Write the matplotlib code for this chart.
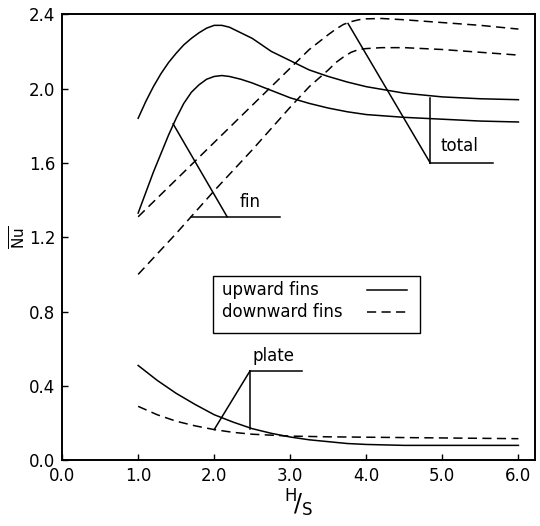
import numpy as np
import matplotlib
matplotlib.use("Agg")
import matplotlib.pyplot as plt
from matplotlib.patches import Rectangle

# upward fins (solid)
up_total_x = [1.0, 1.1, 1.2, 1.3, 1.4, 1.5, 1.6, 1.7, 1.8, 1.9, 2.0, 2.1, 2.2,
              2.35, 2.5, 2.75, 3.0, 3.25, 3.5, 3.75, 4.0, 4.5, 5.0, 5.5, 6.0]
up_total = [1.84, 1.93, 2.01, 2.08, 2.14, 2.19, 2.235, 2.27, 2.30, 2.325, 2.34,
            2.34, 2.33, 2.30, 2.27, 2.20, 2.15, 2.10, 2.065, 2.035, 2.01,
            1.975, 1.955, 1.945, 1.94]
up_fin_x = [1.0, 1.1, 1.2, 1.3, 1.4, 1.5, 1.6, 1.7, 1.8, 1.9, 2.0, 2.1, 2.2,
            2.35, 2.5, 2.75, 3.0, 3.25, 3.5, 3.75, 4.0, 4.5, 5.0, 5.5, 6.0]
up_fin = [1.33, 1.44, 1.55, 1.65, 1.75, 1.84, 1.92, 1.98, 2.02, 2.05, 2.065,
          2.07, 2.065, 2.05, 2.03, 1.99, 1.95, 1.92, 1.895, 1.875, 1.86,
          1.845, 1.835, 1.825, 1.82]
up_plate_x = [1.0, 1.25, 1.5, 1.75, 2.0, 2.25, 2.5, 2.75, 3.0, 3.25, 3.5,
              3.75, 4.0, 4.5, 5.0, 5.5, 6.0]
up_plate = [0.51, 0.43, 0.36, 0.30, 0.245, 0.205, 0.17, 0.145, 0.125, 0.11,
            0.10, 0.09, 0.085, 0.08, 0.08, 0.08, 0.08]

# downward fins (dashed)
dn_total_x = [1.0, 1.5, 2.0, 2.5, 3.0, 3.25, 3.5, 3.6, 3.7, 3.8, 3.9, 4.0,
              4.2, 4.5, 5.0, 5.5, 6.0]
dn_total = [1.31, 1.51, 1.71, 1.91, 2.11, 2.21, 2.29, 2.32, 2.345, 2.36, 2.37,
            2.375, 2.377, 2.37, 2.355, 2.34, 2.32]
dn_fin_x = [1.0, 1.5, 2.0, 2.5, 3.0, 3.25, 3.5, 3.6, 3.7, 3.8, 3.9, 4.0,
            4.2, 4.5, 5.0, 5.5, 6.0]
dn_fin = [1.00, 1.22, 1.45, 1.67, 1.90, 2.01, 2.10, 2.14, 2.17, 2.195, 2.21,
          2.215, 2.22, 2.22, 2.21, 2.195, 2.18]
dn_plate_x = [1.0, 1.25, 1.5, 1.75, 2.0, 2.25, 2.5, 2.75, 3.0, 3.5, 4.0,
              5.0, 6.0]
dn_plate = [0.29, 0.245, 0.21, 0.185, 0.165, 0.15, 0.14, 0.135, 0.13, 0.126,
            0.124, 0.12, 0.116]

# label leaders: (x list, y list), label text + position
fin_lines = [([1.46, 2.17], [1.81, 1.31]), ([1.69, 2.87], [1.31, 1.31])]
fin_label = ("fin", 2.33, 1.34)
total_lines = [([3.76, 4.84], [2.35, 1.60]), ([4.84, 4.84], [1.95, 1.60]),
               ([4.84, 5.66], [1.60, 1.60])]
total_label = ("total", 4.97, 1.64)
plate_lines = [([2.0, 2.47], [0.165, 0.48]), ([2.47, 2.47], [0.48, 0.17]),
               ([2.47, 3.16], [0.48, 0.48])]
plate_label = ("plate", 2.51, 0.51)

leg_labels = ["upward fins", "downward fins"]

xticks = [0, 1, 2, 3, 4, 5, 6]
yticks = [0.0, 0.4, 0.8, 1.2, 1.6, 2.0, 2.4]

lw = 1.1
dash = (0, (6, 3.5))

fig = plt.figure(figsize=(5.4, 5.26), dpi=100)
ax = fig.add_axes([0.115, 0.125, 0.876, 0.848])

ax.plot(up_total_x, up_total, color="black", lw=lw)
ax.plot(up_fin_x, up_fin, color="black", lw=lw)
ax.plot(up_plate_x, up_plate, color="black", lw=lw)
ax.plot(dn_total_x, dn_total, color="black", lw=lw, linestyle=dash)
ax.plot(dn_fin_x, dn_fin, color="black", lw=lw, linestyle=dash)
ax.plot(dn_plate_x, dn_plate, color="black", lw=lw, linestyle=dash)

for lines, lab in ((fin_lines, fin_label), (total_lines, total_label),
                   (plate_lines, plate_label)):
    for xs, ys in lines:
        ax.plot(xs, ys, color="black", lw=lw)
    ax.text(lab[1], lab[2], lab[0], fontsize=12, ha="left", va="bottom")

# legend box drawn by hand (text left, line sample right)
ax.add_patch(Rectangle((1.99, 0.683), 2.72, 0.307, fill=False,
                       edgecolor="black", lw=1.0, zorder=3))
ax.text(2.10, 0.914, leg_labels[0], fontsize=12, va="center", ha="left")
ax.text(2.10, 0.796, leg_labels[1], fontsize=12, va="center", ha="left")
ax.plot([4.01, 4.54], [0.914, 0.914], color="black", lw=lw)
ax.plot([4.01, 4.54], [0.796, 0.796], color="black", lw=lw, linestyle=dash)

ax.set_xlim(0, 6.22)
ax.set_ylim(0, 2.4)
ax.set_xticks(xticks)
ax.set_xticklabels(["%.1f" % v for v in xticks])
ax.set_yticks(yticks)
ax.set_yticklabels(["%.1f" % v for v in yticks])
ax.tick_params(direction="in", length=4, width=1, labelsize=12, pad=5)

for s in ax.spines.values():
    s.set_linewidth(1.4)

ax.set_xlabel(r"$^{\mathrm{H}}\!/_{\mathrm{S}}$", fontsize=17, labelpad=2)
ax.set_ylabel(r"$\overline{\mathrm{Nu}}$", fontsize=11)
ax.yaxis.set_label_coords(-0.07, 0.5)

fig.savefig("out.png", dpi=100)
